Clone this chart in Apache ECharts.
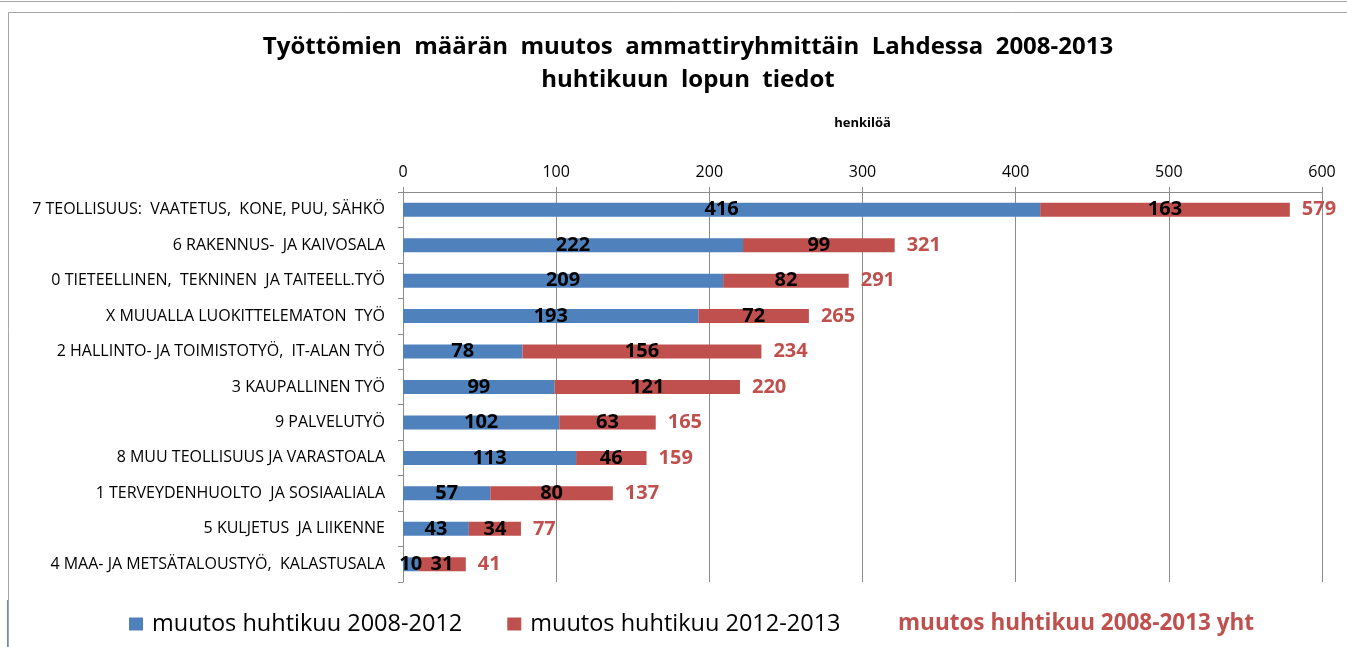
<!DOCTYPE html>
<html>
<head>
<meta charset="utf-8">
<script src="https://cdn.jsdelivr.net/npm/echarts@6/dist/echarts.min.js"></script>
<style>
  html, body { margin: 0; padding: 0; background: #fff; }
  #chart { width: 1347px; height: 647px; }
</style>
</head>
<body>
<div id="chart"></div>
<script>
// Ammattiryhmät (ylhäältä alas)
const categories = [
  '7 TEOLLISUUS:  VAATETUS,  KONE, PUU, SÄHKÖ',
  '6 RAKENNUS-  JA KAIVOSALA',
  '0 TIETEELLINEN,  TEKNINEN  JA TAITEELL.TYÖ',
  'X MUUALLA LUOKITTELEMATON  TYÖ',
  '2 HALLINTO- JA TOIMISTOTYÖ,  IT-ALAN TYÖ',
  '3 KAUPALLINEN TYÖ',
  '9 PALVELUTYÖ',
  '8 MUU TEOLLISUUS JA VARASTOALA',
  '1 TERVEYDENHUOLTO  JA SOSIAALIALA',
  '5 KULJETUS  JA LIIKENNE',
  '4 MAA- JA METSÄTALOUSTYÖ,  KALASTUSALA'
];
const change2008_2012 = [416, 222, 209, 193, 78, 99, 102, 113, 57, 43, 10];
const change2012_2013 = [163, 99, 82, 72, 156, 121, 63, 46, 80, 34, 31];
const total2008_2013 = [579, 321, 291, 265, 234, 220, 165, 159, 137, 77, 41];
const axisTicks = [0, 100, 200, 300, 400, 500, 600];

const seriesNames = [
  'muutos huhtikuu 2008-2012',
  'muutos huhtikuu 2012-2013',
  'muutos huhtikuu 2008-2013 yht'
];

const FONT = '"Open Sans", Lato, sans-serif';
const BLUE = '#4f81bd';
const RED = '#c0504d';
const GRID = '#8c8c8c';

const chart = echarts.init(document.getElementById('chart'));

const segLabel = {
  show: true,
  position: 'inside',
  color: '#000',
  fontFamily: FONT,
  fontWeight: 'bold',
  fontSize: 20
};

chart.setOption({
  animation: false,
  backgroundColor: '#fff',
  title: {
    text: 'Työttömien  määrän  muutos  ammattiryhmittäin  Lahdessa  2008-2013\nhuhtikuun  lopun  tiedot',
    left: 683,
    textAlign: 'center',
    top: 26,
    textStyle: {
      fontFamily: FONT,
      fontWeight: 'bold',
      fontSize: 24,
      lineHeight: 33,
      color: '#000'
    }
  },
  legend: [
    {
      left: 124,
      top: 607,
      itemWidth: 14,
      itemHeight: 13,
      itemGap: 45,
      icon: 'rect',
      data: [seriesNames[0], seriesNames[1]],
      textStyle: { fontFamily: FONT, fontSize: 23.5, color: '#000', padding: [0, 0, 0, 4] }
    },
    {
      left: 893,
      top: 607,
      data: [{ name: seriesNames[2], icon: 'none' }],
      itemWidth: 0,
      itemGap: 0,
      textStyle: { fontFamily: FONT, fontSize: 22.5, fontWeight: 'bold', color: RED, padding: [0, 0, 0, -5] }
    }
  ],
  grid: { left: 403, right: 25, top: 192, bottom: 65 },
  xAxis: {
    type: 'value',
    position: 'top',
    min: axisTicks[0],
    max: axisTicks[axisTicks.length - 1],
    interval: 100,
    name: 'henkilöä',
    nameLocation: 'middle',
    nameGap: 62,
    nameTextStyle: { fontFamily: FONT, fontWeight: 'bold', fontSize: 13, color: '#000' },
    axisLine: { show: true, lineStyle: { color: GRID, width: 1 } },
    axisTick: { show: true, length: 5, lineStyle: { color: GRID } },
    axisLabel: { fontFamily: FONT, fontSize: 16, color: '#000', margin: 12 },
    splitLine: { show: true, lineStyle: { color: GRID, width: 1 } }
  },
  yAxis: {
    type: 'category',
    inverse: true,
    data: categories,
    axisLine: { show: true, lineStyle: { color: GRID } },
    axisTick: { show: true, length: 5, lineStyle: { color: GRID } },
    axisLabel: { fontFamily: FONT, fontSize: 16, color: '#000', margin: 18 }
  },
  series: [
    {
      name: seriesNames[0],
      type: 'bar',
      stack: 'muutos',
      barWidth: 14,
      itemStyle: { color: BLUE },
      label: segLabel,
      data: change2008_2012
    },
    {
      name: seriesNames[1],
      type: 'bar',
      stack: 'muutos',
      barWidth: 14,
      itemStyle: { color: RED },
      label: segLabel,
      data: change2012_2013
    },
    {
      // Kokonaismuutos: läpinäkyvä palkki, jonka arvo näytetään palkin oikealla puolella
      name: seriesNames[2],
      type: 'bar',
      barWidth: 14,
      barGap: '-100%',
      z: 1,
      itemStyle: { color: 'rgba(0,0,0,0)' },
      label: {
        show: true,
        position: 'right',
        distance: 12,
        color: RED,
        fontFamily: FONT,
        fontWeight: 'bold',
        fontSize: 20
      },
      data: total2008_2013
    }
  ],
  graphic: [
    { type: 'line', shape: { x1: 0, y1: 1.5, x2: 1347, y2: 1.5 }, style: { stroke: '#a6a6a6', lineWidth: 1 } },
    { type: 'line', shape: { x1: 8.5, y1: 12.5, x2: 1347, y2: 12.5 }, style: { stroke: '#a6a6a6', lineWidth: 1 } },
    { type: 'line', shape: { x1: 8.5, y1: 12.5, x2: 8.5, y2: 647 }, style: { stroke: '#a6a6a6', lineWidth: 1 } },
    { type: 'line', shape: { x1: 7.5, y1: 600, x2: 7.5, y2: 647 }, style: { stroke: '#5b8fc9', lineWidth: 1 } }
  ]
});
</script>
</body>
</html>
